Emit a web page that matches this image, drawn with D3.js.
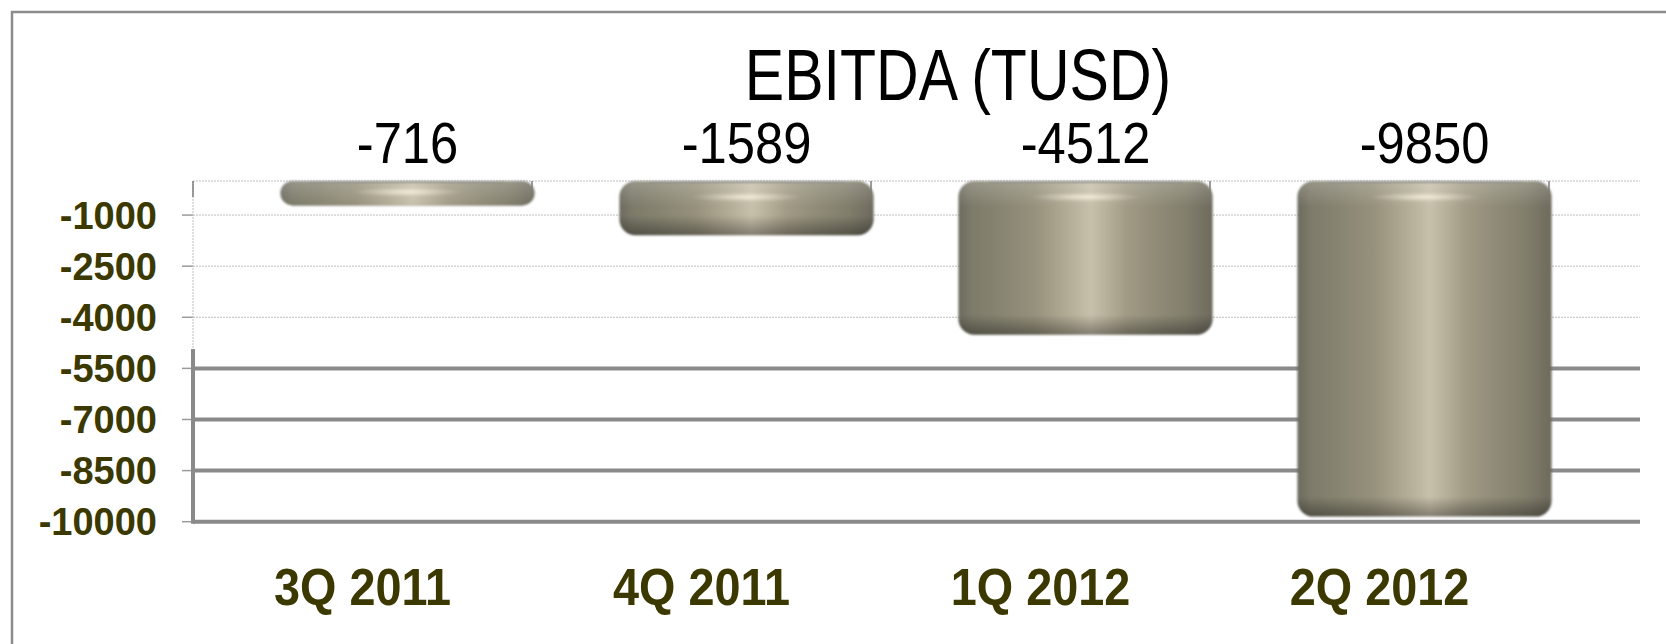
<!DOCTYPE html>
<html>
<head>
<meta charset="utf-8">
<script src="https://cdn.jsdelivr.net/npm/d3@7"></script>
<style>
  body { margin: 0; background: #fff; }
  svg { display: block; }
</style>
</head>
<body>
<div id="chart"></div>
<script>
const width = 1666;
const height = 644;

// data
const categories = ['3Q 2011', '4Q 2011', '1Q 2012', '2Q 2012'];
const values = [-716, -1589, -4512, -9850];
const yTicks = [-1000, -2500, -4000, -5500, -7000, -8500, -10000];
const title = 'EBITDA (TUSD)';

// layout
const plotLeft = 193;
const plotTop = 181;
const plotBottom = 521.7;
const step = 339;
const depth = 45;      // bars sit half way into the 3d floor
const wallDepth = 91;  // back wall gridlines reach further right
const seamY = 349;     // below this the gridlines get heavy
const labelColor = '#3b3800';

const svg = d3.select('#chart')
  .append('svg')
    .attr('width', width)
    .attr('height', height);

const x = d3.scaleBand()
  .domain(categories)
  .range([plotLeft, plotLeft + step * categories.length])
  .paddingInner(0)
  .paddingOuter(0);

const y = d3.scaleLinear().domain([-10000, 0]).range([plotBottom, plotTop]);

const plotRight = x.range()[1] + wallDepth;
const barWidth = step * 0.75;

// outer frame (only top and left edges show)
svg.append('path')
  .attr('d', `M12,${height} L12,12 L${width},12`)
  .attr('fill', 'none')
  .attr('stroke', '#8c8c8c')
  .attr('stroke-width', 2.5);

const defs = svg.append('defs');

const hGrad = defs.append('linearGradient')
  .attr('id', 'cyl')
  .attr('x1', 0).attr('x2', 1).attr('y1', 0).attr('y2', 0);
[
  [0, '#6d6b5e'], [0.05, '#7d7a6a'], [0.16, '#878471'], [0.3, '#96917c'],
  [0.43, '#b2ac96'], [0.52, '#c7c0ab'], [0.58, '#b8b19b'], [0.66, '#a19b86'],
  [0.78, '#8f8b77'], [0.9, '#827e6c'], [1, '#6d6a5d']
].forEach(([o, c]) => hGrad.append('stop').attr('offset', o).attr('stop-color', c));

const glow = defs.append('radialGradient').attr('id', 'glow');
glow.append('stop').attr('offset', 0).attr('stop-color', 'rgba(255,250,230,0.75)');
glow.append('stop').attr('offset', 0.6).attr('stop-color', 'rgba(255,250,230,0.25)');
glow.append('stop').attr('offset', 1).attr('stop-color', 'rgba(255,250,230,0)');

defs.append('filter')
  .attr('id', 'soft')
  .append('feGaussianBlur')
  .attr('stdDeviation', 0.8);

// gridlines
const grid = svg.append('g');

grid.append('line')
  .attr('x1', plotLeft).attr('x2', plotRight)
  .attr('y1', y(0)).attr('y2', y(0))
  .attr('stroke', '#bdbdbd')
  .attr('stroke-dasharray', '2,1');

yTicks.forEach(t => {
  const heavy = y(t) > seamY;
  grid.append('line')
    .attr('x1', plotLeft).attr('x2', plotRight)
    .attr('y1', y(t)).attr('y2', y(t))
    .attr('stroke', heavy ? '#8a8a8a' : '#bdbdbd')
    .attr('stroke-width', heavy ? 4 : 1)
    .attr('stroke-dasharray', heavy ? null : '2,1');
  grid.append('line')
    .attr('x1', plotLeft - 11).attr('x2', plotLeft)
    .attr('y1', y(t)).attr('y2', y(t))
    .attr('stroke', '#9a9a9a')
    .attr('stroke-width', 1.5);
});

// left axis, light on top and heavy below the seam
grid.append('line')
  .attr('x1', plotLeft).attr('x2', plotLeft)
  .attr('y1', y(0)).attr('y2', seamY)
  .attr('stroke', '#bdbdbd')
  .attr('stroke-dasharray', '2,1');
grid.append('line')
  .attr('x1', plotLeft).attr('x2', plotLeft)
  .attr('y1', seamY).attr('y2', y(-10000) + 2)
  .attr('stroke', '#8a8a8a')
  .attr('stroke-width', 4);

// category ticks along the top edge
const bounds = categories.map(c => x(c)).concat([x.range()[1]]);
grid.selectAll('.ctick')
  .data(bounds)
  .join('line')
    .attr('x1', d => d).attr('x2', d => d)
    .attr('y1', y(0)).attr('y2', y(0) + 16)
    .attr('stroke', '#7d7d7d')
    .attr('stroke-width', 1.5);

// bars
const bars = svg.append('g').attr('filter', 'url(#soft)');

categories.forEach((c, i) => {
  const bx = x(c) + depth + (step - barWidth) / 2;
  const top = y(0);
  const bot = y(values[i]);
  const h = bot - top;
  const r = Math.min(16, h / 2);

  // vertical shading for this bar, in pixels from its ends
  const f = px => Math.max(0, Math.min(1, px / h));
  const vg = defs.append('linearGradient')
    .attr('id', `v${i}`)
    .attr('gradientUnits', 'userSpaceOnUse')
    .attr('x1', 0).attr('x2', 0).attr('y1', top).attr('y2', bot);
  const stops = [
    [0, 'rgba(255,255,255,0.2)'],
    [f(10), 'rgba(255,255,255,0.12)'],
    [f(26), 'rgba(255,255,255,0)'],
    [f(h - 20), 'rgba(0,0,0,0)'],
    [f(h - 6), 'rgba(0,0,0,0.25)'],
    [1, 'rgba(0,0,0,0.35)']
  ];
  let last = 0;
  stops.forEach(([o, col]) => {
    last = Math.max(last, o);
    vg.append('stop').attr('offset', last).attr('stop-color', col);
  });

  bars.append('rect')
    .attr('x', bx).attr('y', top)
    .attr('width', barWidth).attr('height', h)
    .attr('rx', r).attr('ry', r)
    .attr('fill', 'url(#cyl)');
  bars.append('rect')
    .attr('x', bx).attr('y', top)
    .attr('width', barWidth).attr('height', h)
    .attr('rx', r).attr('ry', r)
    .attr('fill', `url(#v${i})`);
  // small glint near the top rim
  bars.append('ellipse')
    .attr('cx', bx + barWidth * 0.5)
    .attr('cy', top + Math.min(16, h * 0.45))
    .attr('rx', barWidth * 0.22)
    .attr('ry', Math.min(5, h * 0.2))
    .attr('fill', 'url(#glow)');
  bars.append('line')
    .attr('x1', bx + 30).attr('x2', bx + barWidth - 30)
    .attr('y1', top + 1).attr('y2', top + 1)
    .attr('stroke', '#8e8e86')
    .attr('stroke-width', 2);
});

// y tick labels
svg.append('g')
  .selectAll('text')
  .data(yTicks)
  .join('text')
    .attr('x', 157)
    .attr('y', d => y(d))
    .attr('dy', '0.36em')
    .attr('text-anchor', 'end')
    .attr('font-family', '"Liberation Sans", Arial, sans-serif')
    .attr('font-weight', 'bold')
    .attr('font-size', 38)
    .attr('fill', labelColor)
    .text(d => d);

// category labels
svg.append('g')
  .selectAll('g')
  .data(categories)
  .join('g')
    .attr('transform', d => `translate(${x(d) + x.bandwidth() / 2},605) scale(0.9,1)`)
  .append('text')
    .attr('text-anchor', 'middle')
    .attr('font-family', '"Liberation Sans", Arial, sans-serif')
    .attr('font-weight', 'bold')
    .attr('font-size', 52)
    .attr('fill', labelColor)
    .text(d => d);

// value labels above the bars
svg.append('g')
  .selectAll('g')
  .data(categories)
  .join('g')
    .attr('transform', d => `translate(${x(d) + depth + step / 2},163) scale(0.89,1)`)
  .append('text')
    .attr('text-anchor', 'middle')
    .attr('font-family', '"Liberation Sans", Arial, sans-serif')
    .attr('font-size', 57)
    .attr('fill', '#000')
    .text((d, i) => values[i]);

// title
svg.append('g')
  .attr('transform', 'translate(958,100) scale(0.82,1)')
  .append('text')
    .attr('text-anchor', 'middle')
    .attr('font-family', '"Liberation Sans", Arial, sans-serif')
    .attr('font-size', 72)
    .attr('fill', '#000')
    .text(title);
</script>
</body>
</html>
